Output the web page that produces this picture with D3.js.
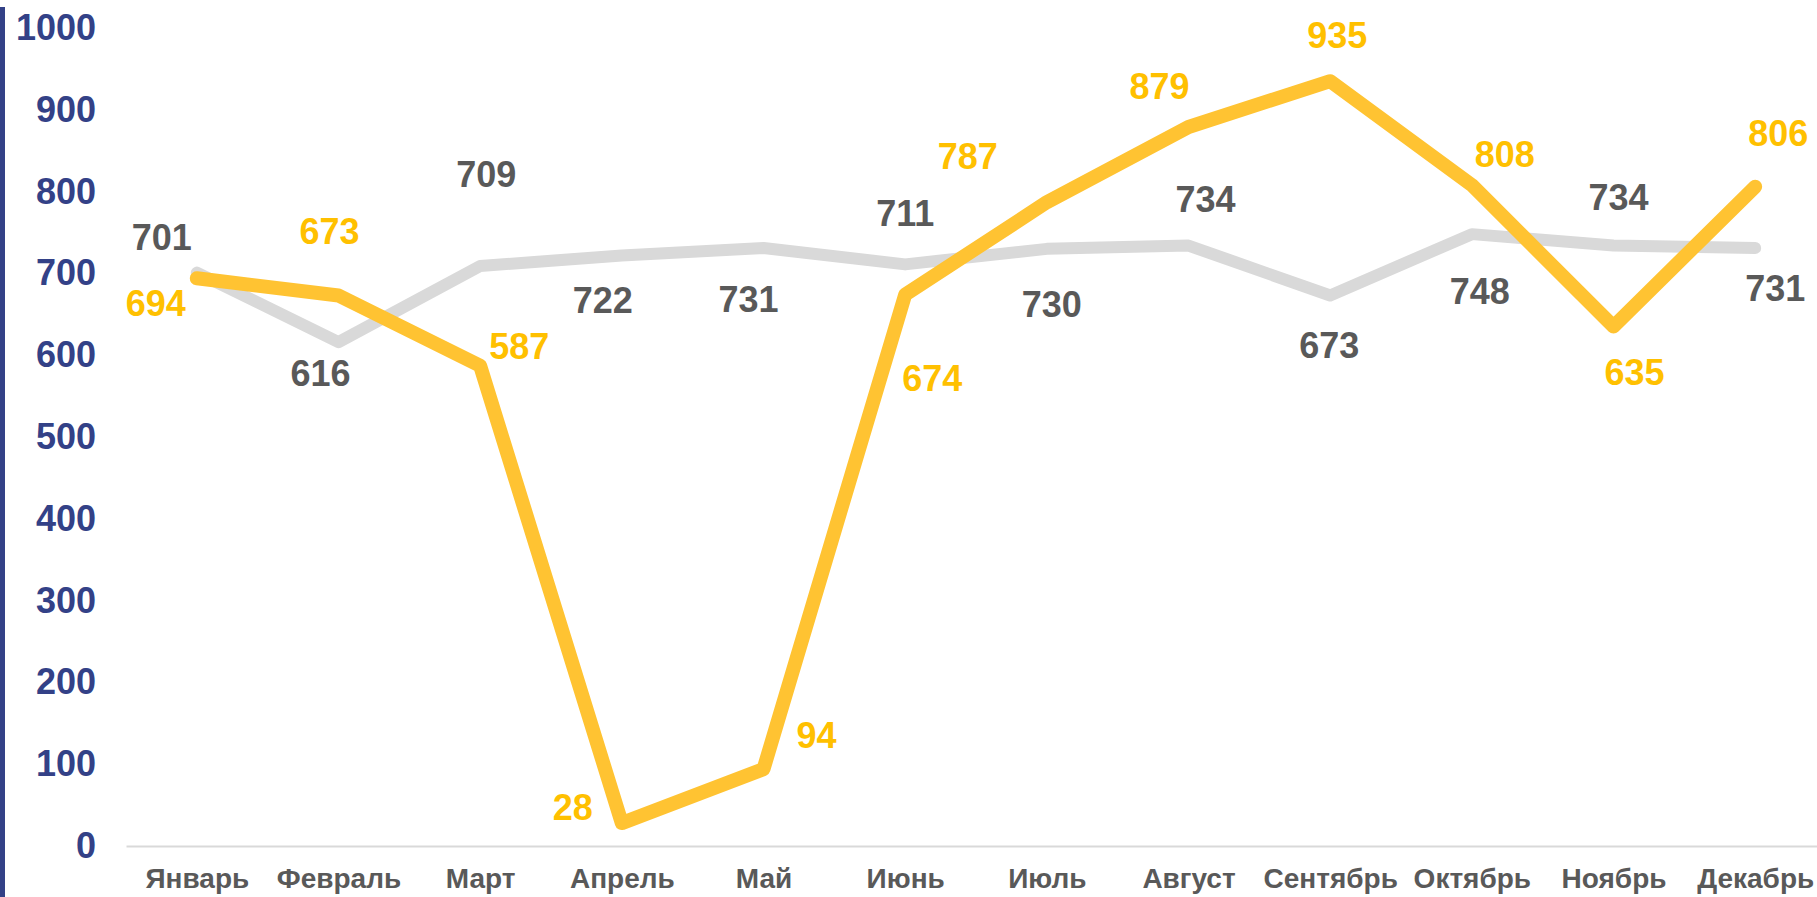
<!DOCTYPE html>
<html>
<head>
    <meta charset="utf-8">
    <title>Линейный график по месяцам</title>
    <script src="https://cdn.jsdelivr.net/npm/d3@7"></script>
    <style>
        html, body { margin: 0; padding: 0; background: #fff; }
        svg { display: block; }
        text { font-family: "Liberation Sans", Arial, sans-serif; font-weight: bold; }
        .y-axis text { fill: #334187; font-size: 36px; }
        .x-axis text { fill: #595959; font-size: 28px; }
        .lbl { font-size: 36px; }
    </style>
</head>
<body>
<script>
    // Данные
    var months = ["Январь", "Февраль", "Март", "Апрель", "Май", "Июнь",
                  "Июль", "Август", "Сентябрь", "Октябрь", "Ноябрь", "Декабрь"];
    var grayValues   = [701, 616, 709, 722, 731, 711, 730, 734, 673, 748, 734, 731];
    var yellowValues = [694, 673, 587, 28, 94, 674, 787, 879, 935, 808, 635, 806];
    var yTicks = [0, 100, 200, 300, 400, 500, 600, 700, 800, 900, 1000];

    // Décalage des étiquettes par rapport au point (comme dans l'original)
    var grayLabelShift = [[-35, -36], [-18, 31], [6, -92], [-19, 45], [-15, 51], [0, -51],
                          [5, 55], [17, -47], [-1, 50], [8, 57], [5, -49], [20, 40]];
    var yellowLabelShift = [[-41, 25], [-9, -64], [39, -20], [-49, -16], [53, -34], [27, 83],
                            [-79, -46], [-29, -41], [7, -46], [33, -31], [21, 45], [23, -54]];

    var width = 1817,
        height = 897;

    var svg = d3.select("body").append("svg")
        .attr("width", width)
        .attr("height", height);

    var x = d3.scalePoint()
        .domain(months)
        .range([126, 1826])
        .padding(0.5);

    var y = d3.scaleLinear()
        .domain([0, 1000])
        .range([846, 28]);

    // barre bleue à gauche
    svg.append("rect")
        .attr("x", 0)
        .attr("y", 7)
        .attr("width", 5)
        .attr("height", height - 7)
        .attr("fill", "#334187");

    // axe Y
    var yAxis = svg.append("g")
        .attr("class", "y-axis")
        .attr("transform", "translate(100,0)")
        .call(d3.axisLeft(y).tickValues(yTicks).tickFormat(d3.format("d"))
            .tickSize(0).tickPadding(4));
    yAxis.select(".domain").remove();

    // axe X
    var xAxis = svg.append("g")
        .attr("class", "x-axis")
        .attr("transform", "translate(0," + y(0) + ")")
        .call(d3.axisBottom(x).tickSize(0).tickPadding(22));
    xAxis.select(".domain")
        .attr("stroke", "#d9d9d9")
        .attr("stroke-width", 2);

    var line = d3.line()
        .x(function(d, i) { return x(months[i]); })
        .y(function(d) { return y(d); });

    svg.append("path")
        .datum(grayValues)
        .attr("d", line)
        .attr("fill", "none")
        .attr("stroke", "#d9d9d9")
        .attr("stroke-width", 12)
        .attr("stroke-linejoin", "round")
        .attr("stroke-linecap", "round");

    svg.append("path")
        .datum(yellowValues)
        .attr("d", line)
        .attr("fill", "none")
        .attr("stroke", "#ffc332")
        .attr("stroke-width", 14)
        .attr("stroke-linejoin", "round")
        .attr("stroke-linecap", "round");

    function addLabels(values, shifts, color) {
        svg.append("g").selectAll("text")
            .data(values)
            .join("text")
            .attr("class", "lbl")
            .attr("x", function(d, i) { return x(months[i]) + shifts[i][0]; })
            .attr("y", function(d, i) { return y(d) + shifts[i][1]; })
            .attr("dy", "0.36em")
            .attr("text-anchor", "middle")
            .attr("fill", color)
            .text(function(d) { return d; });
    }
    addLabels(grayValues, grayLabelShift, "#595959");
    addLabels(yellowValues, yellowLabelShift, "#ffc000");
</script>
</body>
</html>
